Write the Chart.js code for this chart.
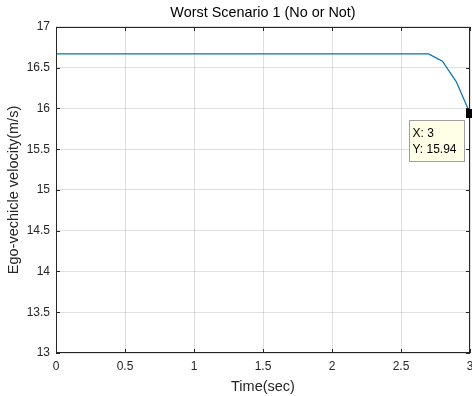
<!DOCTYPE html>
<html><head><meta charset="utf-8">
<script src="https://cdn.jsdelivr.net/npm/chart.js@4/dist/chart.umd.min.js"></script>
<style>html,body{margin:0;padding:0;background:#fff}#wrap{width:472px;height:396px}</style>
</head><body><div id="wrap"><canvas id="c" width="472" height="396"></canvas></div>
<script>
const times = [0,0.1,0.2,0.3,0.4,0.5,0.6,0.7,0.8,0.9,1.0,1.1,1.2,1.3,1.4,1.5,1.6,1.7,1.8,1.9,2.0,2.1,2.2,2.3,2.4,2.5,2.6,2.7,2.8,2.9,3.0];
const velocity = [16.67,16.67,16.67,16.67,16.67,16.67,16.67,16.67,16.67,16.67,16.67,16.67,16.67,16.67,16.67,16.67,16.67,16.67,16.67,16.67,16.67,16.67,16.67,16.67,16.67,16.67,16.67,16.67,16.58,16.33,15.94];
const xTicks = [0,0.5,1,1.5,2,2.5,3];
const yTicks = [13,13.5,14,14.5,15,15.5,16,16.5,17];
const tipPoint = {x:3, y:15.94};
const titleText = 'Worst Scenario 1 (No or Not)';
const xTitle = 'Time(sec)';
const yTitle = 'Ego-vechicle velocity(m/s)';

const FONT = 'Liberation Sans, Arial, Helvetica, sans-serif';
const INK = '#262626';

const boxPlugin = {
  id:'box',
  afterDatasetsDraw(chart){
    const {ctx, chartArea:a, scales:{x,y}} = chart;
    ctx.save();
    ctx.strokeStyle = INK; ctx.lineWidth = 1;
    ctx.beginPath();
    xTicks.forEach(v=>{const px=Math.round(x.getPixelForValue(v))+0.5;
      ctx.moveTo(px,a.bottom);ctx.lineTo(px,a.bottom-4);
      ctx.moveTo(px,a.top);ctx.lineTo(px,a.top+4);});
    yTicks.forEach(v=>{const py=Math.round(y.getPixelForValue(v))+0.5;
      ctx.moveTo(a.left,py);ctx.lineTo(a.left+4,py);
      ctx.moveTo(a.right,py);ctx.lineTo(a.right-4,py);});
    ctx.stroke();
    ctx.strokeRect(Math.round(a.left)+0.5, Math.round(a.top)+0.5, Math.round(a.right-a.left)-1, Math.round(a.bottom-a.top)-1);
    const px = x.getPixelForValue(tipPoint.x), py = y.getPixelForValue(tipPoint.y);
    const bx = Math.round(px-61)+0.5, by = Math.round(py+7)+0.5, bw=55, bh=41;
    ctx.fillStyle = '#ffffe6';
    ctx.fillRect(bx,by,bw,bh);
    ctx.strokeStyle = '#a0a0a0';
    ctx.strokeRect(bx,by,bw,bh);
    ctx.fillStyle = '#000';
    ctx.font = '12px '+FONT;
    ctx.textBaseline='middle'; ctx.textAlign='left';
    ctx.fillText('X: '+tipPoint.x, bx+3, by+13);
    ctx.fillText('Y: '+tipPoint.y.toFixed(2), bx+3, by+29);
    ctx.fillStyle='#000';
    ctx.fillRect(Math.round(px)-4, Math.round(py)-4, 9, 9);
    ctx.restore();
  }
};

new Chart(document.getElementById('c'), {
  type:'line',
  data:{datasets:[{
    data: times.map((t,i)=>({x:t,y:velocity[i]})),
    borderColor:'#0072BD', borderWidth:1.2, pointRadius:0, tension:0, fill:false
  }]},
  options:{
    responsive:false, animation:false, devicePixelRatio:1,
    layout:{padding:{top:0,right:2,left:0,bottom:0}},
    plugins:{
      legend:{display:false}, tooltip:{enabled:false},
      title:{display:true, text:titleText, fullSize:false, color:'#000',
        font:{family:FONT,size:14.4,weight:'normal',lineHeight:1.2}, padding:{top:4.4,bottom:5.3}}
    },
    scales:{
      x:{type:'linear', min:0, max:3,
        afterBuildTicks(s){s.ticks=xTicks.map(v=>({value:v}));},
        afterFit(s){s.height=43; s.paddingLeft=0; s.paddingRight=0;},
        grid:{color:'rgba(38,38,38,0.15)', drawTicks:false, lineWidth:1},
        border:{display:false},
        ticks:{color:INK, padding:6, maxRotation:0, autoSkip:false,
          font:{family:FONT,size:12}, callback:v=>String(v)},
        title:{display:true, text:xTitle, color:INK, font:{family:FONT,size:14.5,lineHeight:1.2}, padding:{top:0,bottom:0}}
      },
      y:{type:'linear', min:13, max:17,
        afterBuildTicks(s){s.ticks=yTicks.map(v=>({value:v}));},
        afterFit(s){s.width=56; s.paddingTop=0; s.paddingBottom=0;},
        grid:{color:'rgba(38,38,38,0.15)', drawTicks:false, lineWidth:1},
        border:{display:false},
        ticks:{color:INK, padding:6, autoSkip:false,
          font:{family:FONT,size:12}, callback:v=>String(v)},
        title:{display:true, text:yTitle, color:INK, font:{family:FONT,size:14.5,lineHeight:1.2}, padding:{top:5,bottom:0}}
      }
    }
  },
  plugins:[boxPlugin]
});
</script></body></html>
